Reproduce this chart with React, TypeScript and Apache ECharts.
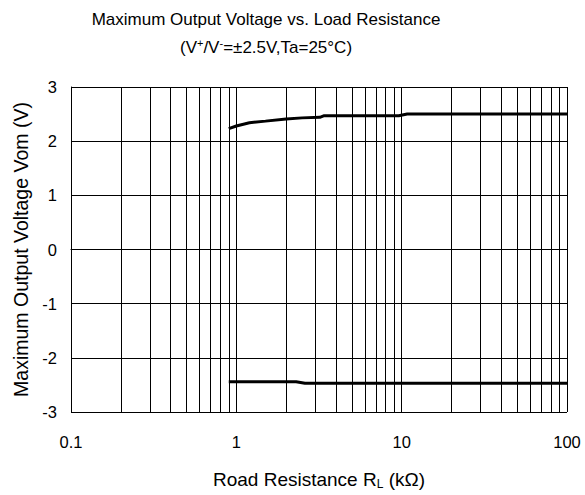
import React, { useEffect, useRef } from "react";
import * as echarts from "echarts";

const upperX = [0.9, 1.0, 1.2, 1.5, 2.0, 2.5, 3.2, 3.4, 5, 9.6, 10.8, 20, 50, 100];
const upperY = [2.23, 2.28, 2.34, 2.37, 2.41, 2.43, 2.44, 2.47, 2.47, 2.47, 2.5, 2.5, 2.5, 2.5];
const lowerX = [0.9, 2.0, 2.3, 2.6, 5, 10, 100];
const lowerY = [-2.44, -2.44, -2.44, -2.47, -2.47, -2.47, -2.47];
const yTicks = { min: -3, max: 3, interval: 1 };
const xRange = { min: 0.1, max: 100 };
const decades = [0.1, 1, 10];
const multipliers = [2, 3, 4, 5, 6, 7, 8, 9];

const FONT = "'Liberation Sans', Arial, sans-serif";

export default function App() {
  const ref = useRef<HTMLDivElement>(null);
  useEffect(() => {
    if (!ref.current) return;
    const chart = echarts.init(ref.current, null, { renderer: "svg" });
    const minorVals: number[] = [];
    decades.forEach((d) => multipliers.forEach((m) => minorVals.push(+(d * m).toPrecision(3))));
    const lineStyle = { color: "#000", width: 3 };
    chart.setOption({
      animation: false,
      textStyle: { fontFamily: FONT },
      graphic: [
        {
          type: "text",
          x: 266,
          y: 19,
          style: {
            text: "Maximum Output Voltage vs. Load Resistance",
            fontFamily: FONT,
            fontSize: 17,
            fill: "#000",
            align: "center",
            verticalAlign: "middle",
          },
        },
        {
          type: "text",
          x: 266,
          y: 47,
          style: {
            text: "(V{sup|+}/V{sup|-}=±2.5V,Ta=25°C)",
            fontFamily: FONT,
            fontSize: 17,
            fill: "#000",
            align: "center",
            verticalAlign: "middle",
            rich: {
              sup: { fontSize: 11, fontFamily: FONT, fill: "#000", padding: [0, 0, 8, 0] },
            },
          },
        },
      ],
      grid: { left: 71, right: 18, top: 87, bottom: 79, containLabel: false },
      xAxis: {
        type: "log",
        logBase: 10,
        min: xRange.min,
        max: xRange.max,
        name: "Road Resistance R{sub|L} (kΩ)",
        nameLocation: "middle",
        nameGap: 57,
        nameTextStyle: {
          fontSize: 19,
          color: "#000",
          fontFamily: FONT,
          rich: {
            sub: { fontSize: 12, fontFamily: FONT, color: "#000", padding: [9, 0, 0, 0] },
          },
        },
        axisLine: { show: true, lineStyle: { color: "#000", width: 1 } },
        axisTick: { show: false },
        axisLabel: { color: "#000", fontSize: 16.5, margin: 21, fontFamily: FONT },
        splitLine: { show: true, lineStyle: { color: "#000", width: 1 } },
      },
      yAxis: {
        type: "value",
        min: yTicks.min,
        max: yTicks.max,
        interval: yTicks.interval,
        name: "Maximum Output Voltage Vom (V)",
        nameLocation: "middle",
        nameGap: 38,
        nameTextStyle: { fontSize: 19.5, color: "#000", fontFamily: FONT },
        axisLine: { show: true, lineStyle: { color: "#000", width: 1 } },
        axisTick: { show: false },
        axisLabel: { color: "#000", fontSize: 16.5, margin: 14, fontFamily: FONT },
        splitLine: { show: true, lineStyle: { color: "#000", width: 1 } },
      },
      series: [
        {
          type: "line",
          data: upperX.map((x, i) => [x, upperY[i]]),
          showSymbol: false,
          symbol: "none",
          lineStyle,
          smooth: false,
          markLine: {
            silent: true,
            symbol: ["none", "none"],
            label: { show: false },
            lineStyle: { color: "#000", width: 1, type: "solid" },
            data: minorVals.map((v) => ({ xAxis: v })),
          },
          z: 3,
        },
        {
          type: "line",
          data: lowerX.map((x, i) => [x, lowerY[i]]),
          showSymbol: false,
          symbol: "none",
          lineStyle,
          z: 3,
        },
      ],
    });
    return () => chart.dispose();
  }, []);
  return (
    <div
      ref={ref}
      style={{ position: "fixed", left: 0, top: 0, width: 585, height: 495, background: "#fff" }}
    />
  );
}
